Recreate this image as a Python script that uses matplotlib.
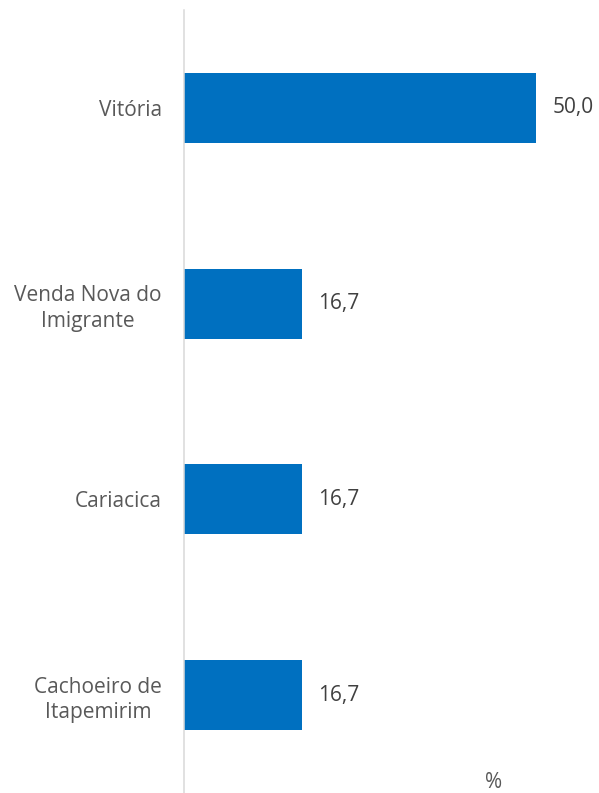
import matplotlib
matplotlib.use("Agg")
import matplotlib.pyplot as plt

categories = ["Vitória", "Venda Nova do\nImigrante", "Cariacica", "Cachoeiro de\nItapemirim"]
values = [50.0, 16.7, 16.7, 16.7]
value_labels = ["50,0", "16,7", "16,7", "16,7"]
unit_label = "%"

plt.rcParams['font.family'] = ['Open Sans', 'DejaVu Sans']

fig = plt.figure(figsize=(5.99, 7.93), dpi=100)
ax = fig.add_axes([184/599, 0.0, 415/599, 1 - 10/793])

ypos = list(range(len(categories)))
ax.barh(ypos, values, height=0.357, color="#0070C0", edgecolor="none")
ax.set_ylim(len(categories) - 0.5, -0.5)
ax.set_xlim(0, 58.9)

for y, v, lab in zip(ypos, values, value_labels):
    ax.annotate(lab, xy=(v, y), xytext=(16, 0), textcoords="offset pixels",
                va="center", ha="left", fontsize=15, color="#404040")

ax.set_yticks(ypos)
ax.set_yticklabels(categories, fontsize=15, color="#595959", ha="right",
                   multialignment="center", linespacing=1.3)
ax.tick_params(axis="y", length=0, pad=16)
ax.set_xticks([])
for s in ["top", "right", "bottom"]:
    ax.spines[s].set_visible(False)
ax.spines["left"].set_color("#d9d9d9")
ax.spines["left"].set_linewidth(1.1)

fig.text(494/599, 1 - 783/793, unit_label, ha="center", va="center", fontsize=15, color="#595959")

fig.savefig("out.png", dpi=100)
